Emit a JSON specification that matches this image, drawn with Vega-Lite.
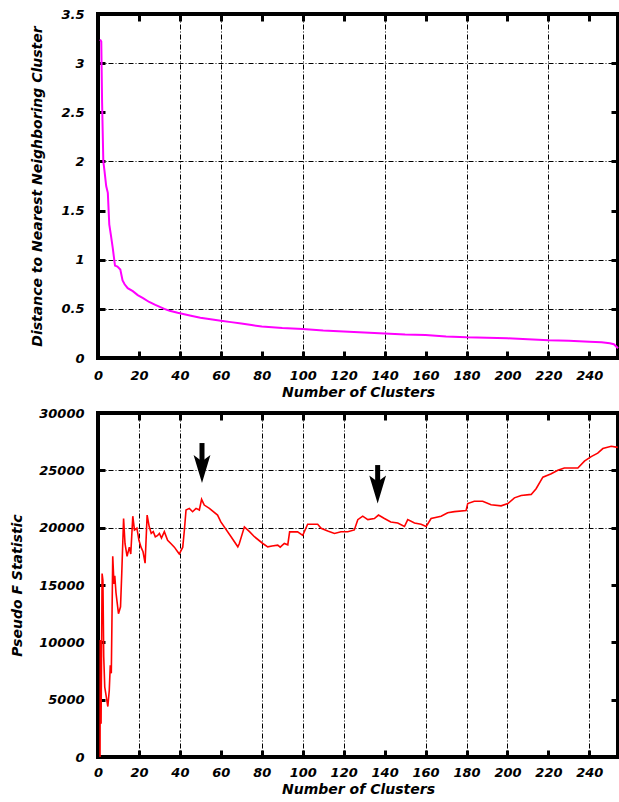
{
  "$schema": "https://vega.github.io/schema/vega-lite/v6.json",
  "background": "white",
  "padding": {"left": 8, "top": 6, "right": 0, "bottom": 0},
  "spacing": 4,
  "datasets": {
    "dist": [
      {"k":1,"d":3.24},{"k":1.6,"d":3.22},{"k":2,"d":2.6},{"k":2.6,"d":2.0},{"k":3.2,"d":1.9},{"k":4,"d":1.75},{"k":4.8,"d":1.68},{"k":5.5,"d":1.36},{"k":6.3,"d":1.25},{"k":7.2,"d":1.12},{"k":8.3,"d":0.94},{"k":9.5,"d":0.93},{"k":10.9,"d":0.9},{"k":12,"d":0.79},{"k":13,"d":0.75},{"k":14.5,"d":0.71},{"k":17,"d":0.68},{"k":19.4,"d":0.64},{"k":22,"d":0.61},{"k":25,"d":0.57},{"k":28,"d":0.54},{"k":32.4,"d":0.5},{"k":35,"d":0.48},{"k":38.9,"d":0.46},{"k":45.4,"d":0.43},{"k":50,"d":0.41},{"k":55,"d":0.395},{"k":60,"d":0.38},{"k":65,"d":0.365},{"k":70,"d":0.35},{"k":75,"d":0.335},{"k":80,"d":0.32},{"k":90,"d":0.305},{"k":100,"d":0.295},{"k":110,"d":0.28},{"k":120,"d":0.27},{"k":130,"d":0.26},{"k":140,"d":0.25},{"k":150,"d":0.24},{"k":160,"d":0.235},{"k":170,"d":0.22},{"k":180,"d":0.21},{"k":190,"d":0.205},{"k":200,"d":0.2},{"k":210,"d":0.19},{"k":220,"d":0.18},{"k":230,"d":0.175},{"k":240,"d":0.165},{"k":246,"d":0.16},{"k":250,"d":0.15},{"k":252,"d":0.14},{"k":254,"d":0.1}
    ],
    "pf": [
      {"k":1,"f":0},{"k":1.1,"f":10200},{"k":1.5,"f":2900},{"k":2,"f":16000},{"k":2.4,"f":15400},{"k":2.8,"f":8750},{"k":3.3,"f":6100},{"k":4,"f":5300},{"k":4.8,"f":4400},{"k":5.5,"f":5800},{"k":6,"f":8000},{"k":6.5,"f":7300},{"k":7.2,"f":17500},{"k":7.8,"f":15100},{"k":8.2,"f":15800},{"k":8.8,"f":14300},{"k":10,"f":12500},{"k":11,"f":13100},{"k":11.6,"f":16000},{"k":12.5,"f":20800},{"k":13.2,"f":18600},{"k":14.2,"f":17500},{"k":15.3,"f":18300},{"k":16,"f":17700},{"k":17,"f":21000},{"k":17.8,"f":19800},{"k":19,"f":19950},{"k":20,"f":18900},{"k":21,"f":18300},{"k":22,"f":17900},{"k":23,"f":16900},{"k":24,"f":21100},{"k":25,"f":20100},{"k":26,"f":19500},{"k":27,"f":19650},{"k":28,"f":19200},{"k":29,"f":19300},{"k":30,"f":19500},{"k":31,"f":19100},{"k":32.4,"f":19650},{"k":34,"f":18900},{"k":35.7,"f":18600},{"k":37.3,"f":18300},{"k":38.9,"f":17900},{"k":39.7,"f":17700},{"k":41.4,"f":18300},{"k":42.2,"f":19800},{"k":43,"f":21540},{"k":44.6,"f":21680},{"k":46.2,"f":21390},{"k":47.9,"f":21680},{"k":49.5,"f":21540},{"k":50.6,"f":22470},{"k":51.9,"f":21970},{"k":54.4,"f":21680},{"k":58.4,"f":21100},{"k":60,"f":20500},{"k":65,"f":19210},{"k":68.3,"f":18330},{"k":69,"f":18600},{"k":71.5,"f":20070},{"k":74,"f":19650},{"k":76.4,"f":19210},{"k":80.5,"f":18620},{"k":82.9,"f":18330},{"k":85,"f":18400},{"k":87.8,"f":18480},{"k":89,"f":18300},{"k":91,"f":18620},{"k":92.7,"f":18500},{"k":93.6,"f":19630},{"k":97.5,"f":19630},{"k":100,"f":19330},{"k":102.4,"f":20300},{"k":107.3,"f":20300},{"k":109,"f":19950},{"k":112.2,"f":19700},{"k":115.5,"f":19500},{"k":118.7,"f":19650},{"k":122,"f":19650},{"k":125.2,"f":19800},{"k":126.9,"f":20700},{"k":129.3,"f":21000},{"k":131.8,"f":20700},{"k":135,"f":20800},{"k":137,"f":21100},{"k":139.9,"f":20800},{"k":143,"f":20500},{"k":146.4,"f":20400},{"k":149.7,"f":20100},{"k":151.3,"f":20700},{"k":154.6,"f":20400},{"k":157.8,"f":20300},{"k":160.3,"f":20100},{"k":162.7,"f":20800},{"k":167.6,"f":21000},{"k":170.8,"f":21300},{"k":174.1,"f":21400},{"k":179.8,"f":21500},{"k":180.6,"f":22100},{"k":183.8,"f":22300},{"k":187.9,"f":22300},{"k":192,"f":22000},{"k":196.9,"f":21900},{"k":200.2,"f":22100},{"k":203.4,"f":22600},{"k":206.7,"f":22800},{"k":211.6,"f":22900},{"k":214,"f":23400},{"k":217.3,"f":24400},{"k":221.4,"f":24700},{"k":224.6,"f":25000},{"k":227.8,"f":25200},{"k":234.4,"f":25200},{"k":237.6,"f":25800},{"k":240.9,"f":26200},{"k":244.1,"f":26500},{"k":246.6,"f":26900},{"k":250.7,"f":27100},{"k":253.9,"f":27000}
    ],
    "arrows": [
      {"k":50.8,"top":27380,"neck":25600,"head":25115},
      {"k":136.6,"top":25460,"neck":23900,"head":23330}
    ]
  },
  "vconcat": [
    {
      "width": 520,
      "height": 344,
      "data": {"name": "dist"},
      "layer": [
        {
          "mark": {"type": "line", "opacity": 0},
          "encoding": {
            "x": {"field": "k", "type": "quantitative", "scale": {"domain": [0, 254], "nice": false, "zero": false},
              "axis": {"orient": "top", "values": [0,20,40,60,80,100,120,140,160,180,200,220,240], "labels": false, "title": null, "grid": false}},
            "y": {"field": "d", "type": "quantitative", "scale": {"domain": [0, 3.5], "nice": false},
              "axis": {"orient": "right", "values": [0,0.5,1,1.5,2,2.5,3,3.5], "labels": false, "title": null, "grid": false}}
          }
        },
        {
          "mark": {"type": "line", "color": "#ff00ff", "strokeWidth": 2},
          "encoding": {
            "x": {"field": "k", "type": "quantitative",
              "axis": {"orient": "bottom", "values": [0,20,40,60,80,100,120,140,160,180,200,220,240], "title": "Number of Clusters", "labelPadding": 18, "titlePadding": 3,
                "grid": true, "gridOpacity": {"condition": {"test": "indexof([40,60,100,140,180,220], datum.value) >= 0", "value": 1}, "value": 0}}},
            "y": {"field": "d", "type": "quantitative",
              "axis": {"orient": "left", "values": [0,0.5,1,1.5,2,2.5,3,3.5], "format": "~g", "title": "Distance to Nearest Neighboring Cluster", "labelPadding": 21, "titlePadding": 16,
                "grid": true, "gridOpacity": {"condition": {"test": "indexof([0.5,1,2,3], datum.value) >= 0", "value": 1}, "value": 0}}}
          }
        }
      ],
      "resolve": {"axis": {"x": "independent", "y": "independent"}}
    },
    {
      "width": 520,
      "height": 344,
      "layer": [
        {
          "data": {"name": "pf"},
          "mark": {"type": "line", "opacity": 0},
          "encoding": {
            "x": {"field": "k", "type": "quantitative", "scale": {"domain": [0, 254], "nice": false, "zero": false},
              "axis": {"orient": "top", "values": [0,20,40,60,80,100,120,140,160,180,200,220,240], "labels": false, "title": null, "grid": false}},
            "y": {"field": "f", "type": "quantitative", "scale": {"domain": [0, 30000], "nice": false},
              "axis": {"orient": "right", "values": [0,5000,10000,15000,20000,25000,30000], "labels": false, "title": null, "grid": false}}
          }
        },
        {
          "data": {"name": "pf"},
          "mark": {"type": "line", "color": "#ff0000", "strokeWidth": 1.6},
          "encoding": {
            "x": {"field": "k", "type": "quantitative",
              "axis": {"orient": "bottom", "values": [0,20,40,60,80,100,120,140,160,180,200,220,240], "title": "Number of Clusters", "labelPadding": 16, "titlePadding": 3,
                "grid": true, "gridOpacity": {"condition": {"test": "indexof([20,40,80,100,120,160,180,200,240], datum.value) >= 0", "value": 1}, "value": 0}}},
            "y": {"field": "f", "type": "quantitative",
              "axis": {"orient": "left", "values": [0,5000,10000,15000,20000,25000,30000], "format": "d", "title": "Pseudo F Statistic", "labelPadding": 21, "titlePadding": 14,
                "grid": true, "gridOpacity": {"condition": {"test": "indexof([20000,25000], datum.value) >= 0", "value": 1}, "value": 0}}}
          }
        },
        {
          "data": {"name": "arrows"},
          "mark": {"type": "rule", "color": "black", "strokeWidth": 5},
          "encoding": {
            "x": {"field": "k", "type": "quantitative", "axis": null},
            "y": {"field": "top", "type": "quantitative", "axis": null},
            "y2": {"field": "neck"}
          }
        },
        {
          "data": {"name": "arrows"},
          "mark": {"type": "point", "shape": "M0,1L-0.6,-1L0,-0.55L0.6,-1Z", "filled": true, "color": "black", "opacity": 1, "size": 784},
          "encoding": {
            "x": {"field": "k", "type": "quantitative", "axis": null},
            "y": {"field": "head", "type": "quantitative", "axis": null}
          }
        }
      ],
      "resolve": {"axis": {"x": "independent", "y": "independent"}}
    }
  ],
  "config": {
    "view": {"stroke": "black", "strokeWidth": 4},
    "axis": {
      "labelFont": "DejaVu Sans", "labelFontWeight": "bold", "labelFontStyle": "italic", "labelFontSize": 13, "labelColor": "black",
      "titleFont": "DejaVu Sans", "titleFontWeight": "bold", "titleFontStyle": "italic", "titleFontSize": 14, "titleColor": "black",
      "domain": false, "tickColor": "black", "tickWidth": 3, "tickSize": -7, "labelFlush": false, "labelOverlap": false,
      "gridColor": "black", "gridDash": [5, 2, 1, 2], "gridWidth": 1
    }
  }
}
